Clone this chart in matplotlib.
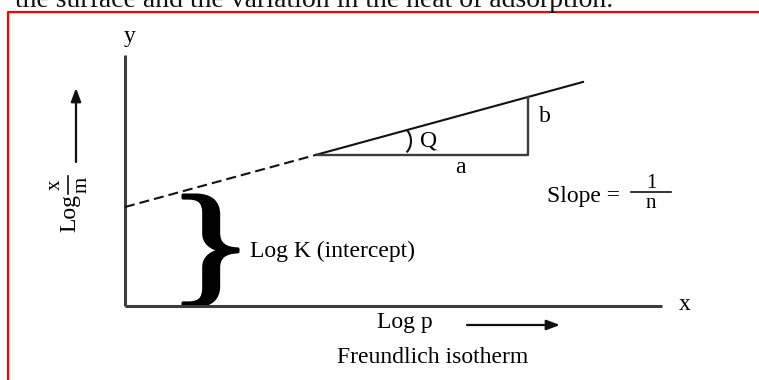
import matplotlib
matplotlib.use('agg')
from matplotlib import pyplot as plt
from matplotlib.patches import PathPatch, Arc
from matplotlib.textpath import TextPath
from matplotlib.font_manager import FontProperties
from matplotlib.transforms import Affine2D

plt.rcParams['font.family'] = ['Liberation Serif', 'DejaVu Serif']
plt.rcParams['lines.scale_dashes'] = False

# Freundlich plot: log(x/m) = log K + (1/n) log p  (drawing units, origin at axes corner)
log_k = 99          # intercept on the y axis
slope = 0.273       # 1/n
x_solid = 192       # start of the measured (solid) part of the line
x_end = 458         # end of the line
x_run = 403         # right corner of the slope triangle
x_axis_len = 537
y_axis_len = 251

# brace marking the intercept, from the x axis up to log K
brace_x = [58, 113]

fs = 17
fs_frac = 15
ink = '#111111'
axis_col = '#3c3c3c'


def line_y(x):
    return log_k + slope * x


fig = plt.figure(figsize=(7.59, 3.80), dpi=100)
ax = fig.add_axes([0, 0, 1, 1])
ax.set_xlim(-125, 634)
ax.set_ylim(-74, 306)
ax.axis('off')

# page text running above the frame, and the red frame itself
ax.text(-110, 299, 'the surface and the variation in the heat of adsorption.',
        fontsize=20, ha='left', va='baseline', color='#111111')
ax.plot([-117, -117, 640], [-80, 294, 294], color='#ff0000', lw=1.6, clip_on=False)

# axes
ax.plot([0, 0], [0, y_axis_len], color=axis_col, lw=2.2, solid_capstyle='butt')
ax.plot([0, x_axis_len], [0, 0], color=axis_col, lw=2.2, solid_capstyle='butt')
ax.text(5, 264, 'y', fontsize=fs, ha='center', va='baseline')
ax.text(560, -4, 'x', fontsize=fs, ha='center', va='baseline')

# isotherm line: dashed extrapolation back to the intercept, then solid
ax.plot([0, x_solid], [line_y(0), line_y(x_solid)], color=ink, lw=1.5,
        dashes=(7.2, 3.6))
ax.plot([x_solid, x_end], [line_y(x_solid), line_y(x_end)], color=ink, lw=1.5)

# slope triangle
ax.plot([x_solid, x_run, x_run], [line_y(x_solid), line_y(x_solid), line_y(x_run)],
        color=axis_col, lw=1.7)
ax.add_patch(Arc((269, 165), 34, 34, theta1=-42, theta2=42, color=ink, lw=1.5))
ax.text(304, 160, 'Q', fontsize=fs, ha='center', va='baseline')
ax.text(335, 133, 'a', fontsize=fs, ha='center', va='baseline')
ax.text(420, 184, 'b', fontsize=fs, ha='center', va='baseline')

# Slope = 1/n, fraction built from two labels and a bar
ax.text(495, 104, 'Slope =', fontsize=fs, ha='right', va='baseline')
ax.plot([506, 546], [114, 114], color=ink, lw=1.2)
ax.text(526, 118, '1', fontsize=fs_frac, ha='center', va='baseline')
ax.text(526, 98, 'n', fontsize=fs_frac, ha='center', va='baseline')

# curly brace from the x axis to the intercept
tp = TextPath((0, 0), '}', size=100, prop=FontProperties(family='Liberation Serif'))
ext = tp.get_extents()
brace_y = [0, line_y(0) + 12]
tr = (Affine2D().translate(-ext.x0, -ext.y0)
      .scale((brace_x[1] - brace_x[0]) / ext.width, (brace_y[1] - brace_y[0]) / ext.height)
      .translate(brace_x[0], brace_y[0]))
ax.add_patch(PathPatch(tr.transform_path(tp), fc='black', ec='black', lw=2.2,
                       joinstyle='round'))
ax.text(125, 49, 'Log K (intercept)', fontsize=fs, ha='left', va='baseline')

# y title: Log x/m written upwards, with the arrow above it
rot = dict(rotation=90, rotation_mode='anchor', ha='center', va='baseline')
ax.text(-50, 93, 'Log', fontsize=fs, **rot)
ax.text(-65, 121, 'x', fontsize=fs_frac, **rot)
ax.text(-38, 121, 'm', fontsize=fs_frac, **rot)
ax.plot([-57, -57], [112, 130], color=ink, lw=1.2)

arrow = dict(arrowstyle='-|>,head_length=0.8,head_width=0.3', color=ink, lw=1.6,
             shrinkA=0, shrinkB=0)
ax.annotate('', xy=(-49, 218), xytext=(-49, 144), arrowprops=arrow)

# x title
ax.text(280, -22, 'Log p', fontsize=fs, ha='center', va='baseline')
ax.annotate('', xy=(435, -19), xytext=(342, -19), arrowprops=arrow)
ax.text(308, -57, 'Freundlich isotherm', fontsize=fs, ha='center', va='baseline')

fig.savefig('out.png', dpi=100)
